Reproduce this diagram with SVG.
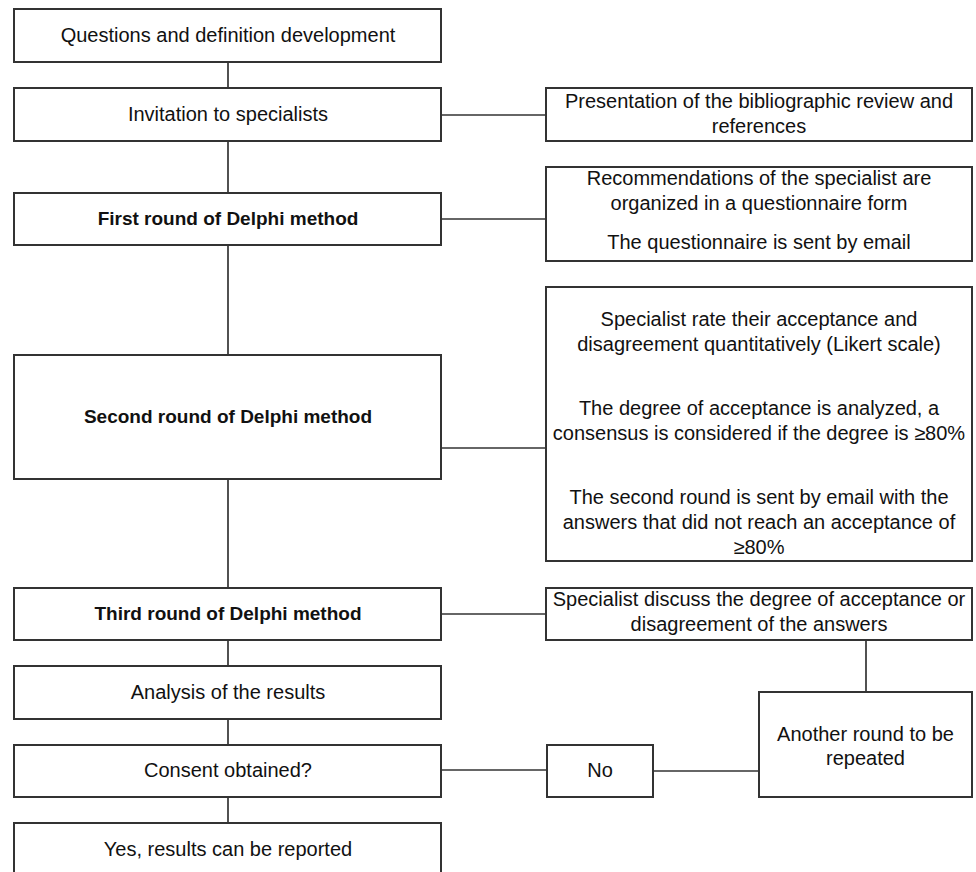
<svg xmlns="http://www.w3.org/2000/svg" width="976" height="872" viewBox="0 0 976 872">
<style>
.box{fill:#fff;stroke:#333;stroke-width:2}
.ln{stroke:#333;stroke-width:1.7;fill:none}
text{font-family:"Liberation Sans",Arial,sans-serif;font-size:20px;fill:#111;text-anchor:middle}
.b{font-weight:bold;font-size:19px}
</style>
<rect width="976" height="872" fill="#fff"/>
<g id="connectors">
<line class="ln" x1="228" y1="62" x2="228" y2="88"/>
<line class="ln" x1="228" y1="141" x2="228" y2="193"/>
<line class="ln" x1="441" y1="115" x2="546" y2="115"/>
<line class="ln" x1="441" y1="219" x2="546" y2="219"/>
<line class="ln" x1="228" y1="245" x2="228" y2="355"/>
<line class="ln" x1="441" y1="448" x2="546" y2="448"/>
<line class="ln" x1="228" y1="479" x2="228" y2="588"/>
<line class="ln" x1="441" y1="614" x2="546" y2="614"/>
<line class="ln" x1="228" y1="640" x2="228" y2="666"/>
<line class="ln" x1="228" y1="719" x2="228" y2="745"/>
<line class="ln" x1="228" y1="797" x2="228" y2="823"/>
<line class="ln" x1="866" y1="640" x2="866" y2="692"/>
<line class="ln" x1="441" y1="770" x2="547" y2="770"/>
<line class="ln" x1="653" y1="771" x2="759" y2="771"/>
</g>
<g id="n1"><rect class="box" x="14" y="9" width="427" height="53"/><text x="228" y="42">Questions and definition development</text></g>
<g id="n2"><rect class="box" x="14" y="88" width="427" height="53"/><text x="228" y="121">Invitation to specialists</text></g>
<g id="n3"><rect class="box" x="14" y="193" width="427" height="52"/><text class="b" x="228" y="225">First round of Delphi method</text></g>
<g id="n4"><rect class="box" x="14" y="355" width="427" height="124"/><text class="b" x="228" y="423">Second round of Delphi method</text></g>
<g id="n5"><rect class="box" x="14" y="588" width="427" height="52"/><text class="b" x="228" y="620">Third round of Delphi method</text></g>
<g id="n6"><rect class="box" x="14" y="666" width="427" height="53"/><text x="228" y="699">Analysis of the results</text></g>
<g id="n7"><rect class="box" x="14" y="745" width="427" height="52"/><text x="228" y="777">Consent obtained?</text></g>
<g id="n8"><rect class="box" x="14" y="823" width="427" height="60"/><text x="228" y="856">Yes, results can be reported</text></g>
<g id="r1"><rect class="box" x="546" y="88" width="426" height="53"/><text x="759" y="108">Presentation of the bibliographic review and</text><text x="759" y="133">references</text></g>
<g id="r2"><rect class="box" x="546" y="167" width="426" height="94"/><text x="759" y="185">Recommendations of the specialist are</text><text x="759" y="210">organized in a questionnaire form</text><text x="759" y="249">The questionnaire is sent by email</text></g>
<g id="r3"><rect class="box" x="546" y="287" width="426" height="274"/><text x="759" y="326">Specialist rate their acceptance and</text><text x="759" y="351">disagreement quantitatively (Likert scale)</text><text x="759" y="415">The degree of acceptance is analyzed, a</text><text x="759" y="440">consensus is considered if the degree is ≥80%</text><text x="759" y="504">The second round is sent by email with the</text><text x="759" y="529">answers that did not reach an acceptance of</text><text x="759" y="554">≥80%</text></g>
<g id="r4"><rect class="box" x="546" y="588" width="426" height="52"/><text x="759" y="606">Specialist discuss the degree of acceptance or</text><text x="759" y="631">disagreement of the answers</text></g>
<g id="r5"><rect class="box" x="759" y="692" width="213" height="105"/><text x="865.5" y="741">Another round to be</text><text x="865.5" y="765">repeated</text></g>
<g id="no"><rect class="box" x="547" y="745" width="106" height="52"/><text x="600" y="777">No</text></g>
</svg>
